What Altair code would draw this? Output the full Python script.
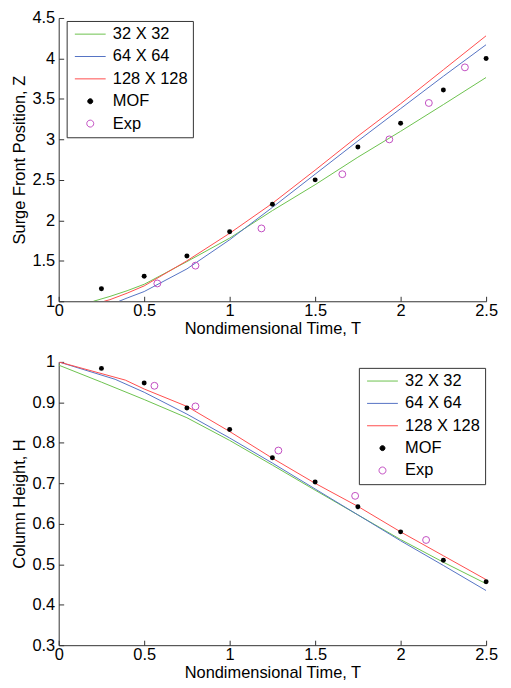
import altair as alt
import pandas as pd

# ---------------- data ----------------
SERIES = ["32 X 32", "64 X 64", "128 X 128", "MOF", "Exp"]

# top panel: surge front position Z
top_t32 = [0.203, 0.3, 0.4, 0.5, 0.75, 1.0, 1.25, 1.5, 1.75, 2.0, 2.25, 2.5]
top_z32 = [1.0, 1.06, 1.13, 1.21, 1.49, 1.78, 2.12, 2.44, 2.78, 3.10, 3.43, 3.765]
top_t64 = [0.353, 0.4, 0.5, 0.75, 1.0, 1.25, 1.5, 1.75, 2.0, 2.25, 2.5]
top_z64 = [1.0, 1.04, 1.12, 1.40, 1.76, 2.16, 2.57, 2.98, 3.38, 3.78, 4.17]
top_t128 = [0.266, 0.3, 0.4, 0.5, 0.75, 1.0, 1.25, 1.5, 1.75, 2.0, 2.25, 2.5]
top_z128 = [1.0, 1.02, 1.10, 1.19, 1.50, 1.84, 2.21, 2.62, 3.04, 3.44, 3.86, 4.28]
top_mof_t = [0.25, 0.5, 0.75, 1.0, 1.25, 1.5, 1.75, 2.0, 2.25, 2.5]
top_mof_z = [1.155, 1.31, 1.56, 1.86, 2.20, 2.50, 2.905, 3.20, 3.61, 4.00]
top_exp_t = [0.577, 0.80, 1.186, 1.659, 1.934, 2.165, 2.376]
top_exp_z = [1.22, 1.44, 1.90, 2.57, 3.00, 3.45, 3.89]

# bottom panel: column height H
bot_t32 = [0, 0.25, 0.5, 0.75, 1.0, 1.25, 1.5, 1.75, 2.0, 2.25, 2.5]
bot_h32 = [0.992, 0.950, 0.907, 0.862, 0.806, 0.745, 0.683, 0.622, 0.561, 0.505, 0.452]
bot_t64 = [0, 0.33, 0.5, 0.75, 1.0, 1.25, 1.5, 1.75, 2.0, 2.25, 2.5]
bot_h64 = [1.0, 0.957, 0.925, 0.871, 0.812, 0.750, 0.686, 0.622, 0.558, 0.497, 0.435]
bot_t128 = [0, 0.39, 0.5, 0.75, 1.0, 1.25, 1.5, 1.75, 2.0, 2.25, 2.5]
bot_h128 = [1.0, 0.955, 0.933, 0.890, 0.828, 0.762, 0.700, 0.643, 0.580, 0.521, 0.462]
bot_mof_t = [0.25, 0.5, 0.75, 1.0, 1.25, 1.5, 1.75, 2.0, 2.25, 2.5]
bot_mof_h = [0.984, 0.948, 0.886, 0.833, 0.763, 0.703, 0.642, 0.580, 0.510, 0.457]
bot_exp_t = [0.56, 0.80, 1.285, 1.734, 2.149]
bot_exp_h = [0.941, 0.890, 0.781, 0.669, 0.560]

x_ticks = [0, 0.5, 1, 1.5, 2, 2.5]
top_y_ticks = [1, 1.5, 2, 2.5, 3, 3.5, 4, 4.5]
bot_y_ticks = [0.3, 0.4, 0.5, 0.6, 0.7, 0.8, 0.9, 1.0]

# ---------------- styling ----------------
FONT = "Liberation Sans"
FS = 16.5
AX = "#333333"
GREEN, BLUE, RED, MAG = "#6cc24e", "#5573c4", "#ff4d4d", "#c24fc2"
LINE_COLORS = [GREEN, BLUE, RED]

# legend symbol paths (unit = symbolSize**0.5 / 2 px), all drawn right of centre
P_LINE = "M-1,0H5.2"
P_DOT = "M1.6,0A0.5,0.5 0 1,0 2.6,0A0.5,0.5 0 1,0 1.6,0Z"
P_RING = "M1.4,0A0.7,0.7 0 1,0 2.8,0A0.7,0.7 0 1,0 1.4,0Z"


def frame(pairs):
    rows = []
    for name, ts, vs in pairs:
        rows += [{"T": t, "V": v, "series": name} for t, v in zip(ts, vs)]
    return pd.DataFrame(rows)


def panel(lines, mof, exp, ydom, yticks, ytitle, lx, ly, h):
    xs = alt.Scale(domain=[0, 2.5], nice=False)
    ys = alt.Scale(domain=ydom, nice=False)
    tick_in = {"expr": "-5"}
    x_axis = alt.Axis(values=x_ticks, format="~g", title="Nondimensional Time, T", labelFlush=False,
                      tickSize=tick_in, labelPadding=6, titlePadding=2)
    y_axis = alt.Axis(values=yticks, format="~g", title=ytitle, labelFlush=False,
                      tickSize=tick_in, labelPadding=9, titlePadding=4)

    line_layer = alt.Chart(lines).mark_line(strokeWidth=1, clip=True).encode(
        x=alt.X("T:Q", scale=xs, axis=x_axis),
        y=alt.Y("V:Q", scale=ys, axis=y_axis),
        stroke=alt.Stroke("series:N", scale=alt.Scale(domain=SERIES[:3], range=LINE_COLORS), legend=None),
    )
    mof_layer = alt.Chart(mof).mark_point(filled=True, color="black", opacity=1, size=25, strokeWidth=0).encode(
        x=alt.X("T:Q", scale=xs, axis=None), y=alt.Y("V:Q", scale=ys, axis=None))
    exp_layer = alt.Chart(exp).mark_point(filled=False, color=MAG, opacity=1, size=48, strokeWidth=1).encode(
        x=alt.X("T:Q", scale=xs, axis=None), y=alt.Y("V:Q", scale=ys, axis=None))

    legend = alt.Legend(
        title=None, orient="none", legendX=lx, legendY=ly,
        labelFont=FONT, labelFontSize=FS, labelColor="black", labelOffset=25,
        strokeColor=AX, fillColor="white", padding=5, rowPadding=5.5,
        symbolSize=100, symbolStrokeWidth=1, cornerRadius=0,
    )
    key_df = pd.DataFrame({"entry": SERIES})
    key_layer = alt.Chart(key_df).transform_filter("false").mark_point(opacity=1, strokeWidth=1).encode(
        x=alt.X("T:Q", scale=xs, axis=None),
        y=alt.Y("V:Q", scale=ys, axis=None),
        stroke=alt.Stroke("entry:N", scale=alt.Scale(domain=SERIES, range=LINE_COLORS + ["black", MAG]), legend=legend),
        fill=alt.Fill("entry:N", scale=alt.Scale(domain=SERIES, range=["transparent"] * 3 + ["black", "transparent"]), legend=legend),
        shape=alt.Shape("entry:N", scale=alt.Scale(domain=SERIES, range=[P_LINE] * 3 + [P_DOT, P_RING]), legend=legend),
    )
    return alt.layer(line_layer, mof_layer, exp_layer, key_layer).resolve_scale(
        stroke="independent", fill="independent", shape="independent"
    ).resolve_legend(
        stroke="independent", fill="independent", shape="independent"
    ).resolve_axis(x="independent", y="independent").properties(width=430, height=h)


top = panel(
    frame([("32 X 32", top_t32, top_z32), ("64 X 64", top_t64, top_z64), ("128 X 128", top_t128, top_z128)]),
    pd.DataFrame({"T": top_mof_t, "V": top_mof_z}), pd.DataFrame({"T": top_exp_t, "V": top_exp_z}),
    [1, 4.5], top_y_ticks, "Surge Front Position, Z", 8, 3, 285)
bot = panel(
    frame([("32 X 32", bot_t32, bot_h32), ("64 X 64", bot_t64, bot_h64), ("128 X 128", bot_t128, bot_h128)]),
    pd.DataFrame({"T": bot_mof_t, "V": bot_mof_h}), pd.DataFrame({"T": bot_exp_t, "V": bot_exp_h}),
    [0.3, 1.0], bot_y_ticks, "Column Height, H", 302, 6, 285)

chart = alt.vconcat(top, bot, spacing=17).resolve_scale(
    stroke="independent", fill="independent", shape="independent"
).resolve_legend(
    stroke="independent", fill="independent", shape="independent"
).properties(
    padding={"left": 4, "top": 0, "right": 5, "bottom": 0},
    background="white",
).configure_view(
    strokeWidth=0
).configure_axis(
    grid=False, domainColor=AX, tickColor=AX, labelColor="black", titleColor="black",
    labelFont=FONT, titleFont=FONT, labelFontSize=FS, titleFontSize=FS,
    titleFontWeight="normal", domainWidth=1, tickWidth=1,
)

chart.save("out.html", embed_options={"renderer": "svg", "actions": False})
